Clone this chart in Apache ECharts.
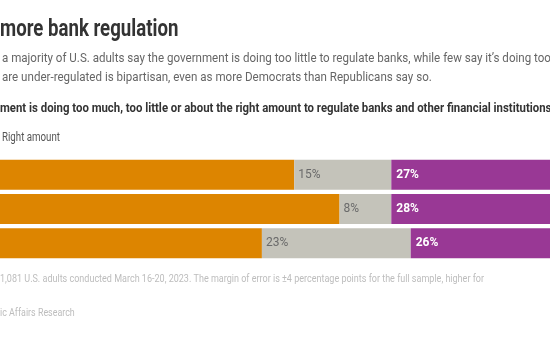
<!DOCTYPE html>
<html><head><meta charset="utf-8">
<script src="https://cdn.jsdelivr.net/npm/echarts@6/dist/echarts.min.js"></script>
<style>html,body{margin:0;padding:0;background:#fff;overflow:hidden;width:550px;height:343px;}#c{width:660px;height:343px;margin-left:-81px;}</style>
</head><body><div id="c"></div>
<script>
const categories = ['Row 1', 'Row 2', 'Row 3'];
const tooLittle = [58, 65, 53];
const rightAmount = [15, 8, 23];
const tooMuch = [27, 28, 26];

const FONT = "Roboto, sans-serif";
const OX = 81;
function txt(x, y, text, font, fill, sx) {
  return { type: 'text', x: OX + x, y: y, scaleX: sx, style: { text: text, font: font, fill: fill, textVerticalAlign: 'top', textAlign: 'left' } };
}
const chart = echarts.init(document.getElementById('c'));
chart.setOption({
  animation: false,
  grid: { left: 0, width: 647, top: 157.5, height: 102.75 },
  xAxis: { type: 'value', min: 0, max: 100, show: false },
  yAxis: { type: 'category', data: categories, inverse: true, show: false },
  series: [
    { name: 'Too little', type: 'bar', stack: 's', barWidth: 30, data: tooLittle,
      itemStyle: { color: '#DD8500' } },
    { name: 'Right amount', type: 'bar', stack: 's', barWidth: 30, data: rightAmount,
      itemStyle: { color: '#C4C3BA' },
      label: { show: true, position: 'insideLeft', distance: 4, formatter: '{c}%', color: '#6a6a6a', fontFamily: FONT, fontSize: 12 } },
    { name: 'Too much', type: 'bar', stack: 's', barWidth: 30, data: tooMuch,
      itemStyle: { color: '#993895' },
      label: { show: true, position: 'insideLeft', distance: 5, formatter: '{c}%', color: '#fff', fontWeight: 'bold', fontFamily: FONT, fontSize: 12 } }
  ],
  graphic: [
    txt(0, 19, 'more bank regulation', "bold 23px " + FONT, '#333', 0.81),
    txt(2, 52.5, "a majority of U.S. adults say the government is doing too little to regulate banks, while few say it\u2019s doing too", "13px " + FONT, '#666', 0.89),
    txt(2, 71, 'are under-regulated is bipartisan, even as more Democrats than Republicans say so.', "13px " + FONT, '#666', 0.89),
    txt(0, 102.5, 'ment is doing too much, too little or about the right amount to regulate banks and other financial institutions', "bold 13px " + FONT, '#333', 0.875),
    txt(2, 132, 'Right amount', "12px " + FONT, '#555', 0.81),
    txt(0, 273.5, '1,081 U.S. adults conducted March 16-20, 2023. The margin of error is \u00b14 percentage points for the full sample, higher for', "11px " + FONT, '#bdbdbd', 0.82),
    txt(0, 307.5, 'ic Affairs Research', "11px " + FONT, '#bdbdbd', 0.81)
  ]
});
</script></body></html>
